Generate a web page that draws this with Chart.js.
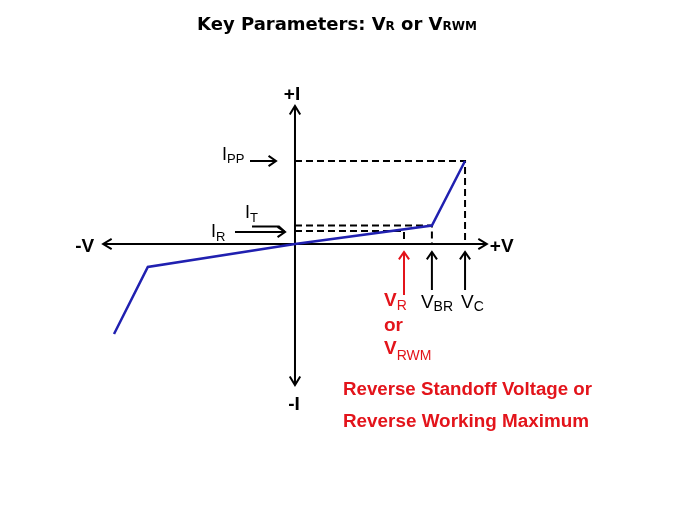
<!DOCTYPE html>
<html><head><meta charset="utf-8">
<script src="https://cdn.jsdelivr.net/npm/chart.js@4/dist/chart.umd.min.js"></script>
<style>html,body{margin:0;padding:0;background:#fff;}canvas{display:block;}</style>
</head><body>
<canvas id="c" width="675" height="506"></canvas>
<script>
// ---- Data (arbitrary units: V horizontal, I vertical) ----
const curveV = [-8.3, -6.75, 0, 6.28, 7.8];
const curveI = [-9.0, -2.3, 0, 1.85, 8.3];
const markerNames = ['VR', 'VBR', 'VC'];
const markerV = [5.0, 6.28, 7.8];
const levelNames = ['IR', 'IT', 'IPP'];
const levelI = [1.3, 1.85, 8.3];
const axisV = [-8.8, 8.8];
const axisI = [-14.1, 13.8];
const viewV = [-13.53, 17.43];
const viewI = [-26.2, 24.4];

const BLUE = '#2020b0';
const RED = '#e3141b';

const curveData = curveV.map((v, k) => ({x: v, y: curveI[k]}));
const dashSets = levelI.map((lev, k) => ({
  label: levelNames[k],
  data: [{x: 0, y: lev}, {x: markerV[k], y: lev}, {x: markerV[k], y: 0}],
  showLine: true, borderColor: '#000', borderWidth: 2, borderDash: [7, 4],
  pointRadius: 0, fill: false, tension: 0
}));

function arrowHead(ctx, tx, ty, ang, len, half) {
  ctx.beginPath();
  ctx.moveTo(tx - len * Math.cos(ang - half), ty - len * Math.sin(ang - half));
  ctx.lineTo(tx, ty);
  ctx.lineTo(tx - len * Math.cos(ang + half), ty - len * Math.sin(ang + half));
  ctx.stroke();
}
function arrow(ctx, x1, y1, x2, y2, color, w) {
  ctx.strokeStyle = color; ctx.lineWidth = w || 2;
  ctx.beginPath(); ctx.moveTo(x1, y1); ctx.lineTo(x2, y2); ctx.stroke();
  arrowHead(ctx, x2, y2, Math.atan2(y2 - y1, x2 - x1), 9, 0.6);
}
function runs(ctx, parts, x, y) {
  let cx = x;
  for (const p of parts) {
    ctx.font = p.font; ctx.fillStyle = p.color;
    ctx.fillText(p.text, cx, y + (p.dy || 0));
    cx += ctx.measureText(p.text).width;
  }
  return cx - x;
}
function fitText(ctx, text, font, color, x, y, w) {
  ctx.font = font; ctx.fillStyle = color;
  const m = ctx.measureText(text).width;
  ctx.save(); ctx.translate(x, y); ctx.scale(w / m, 1); ctx.fillText(text, 0, 0); ctx.restore();
}

const decor = {
  id: 'decor',
  beforeDatasetsDraw(chart) {
    const ctx = chart.ctx, xs = chart.scales.x, ys = chart.scales.y;
    const x0 = xs.getPixelForValue(0), y0 = ys.getPixelForValue(0);
    ctx.save();
    ctx.strokeStyle = '#000'; ctx.lineWidth = 2; ctx.lineCap = 'butt';
    const xl = xs.getPixelForValue(axisV[0]), xr = xs.getPixelForValue(axisV[1]);
    const yt = ys.getPixelForValue(axisI[1]), yb = ys.getPixelForValue(axisI[0]);
    ctx.beginPath(); ctx.moveTo(xl, y0); ctx.lineTo(xr, y0); ctx.stroke();
    ctx.beginPath(); ctx.moveTo(x0, yt); ctx.lineTo(x0, yb); ctx.stroke();
    arrowHead(ctx, xl, y0, Math.PI, 10, 0.55);
    arrowHead(ctx, xr, y0, 0, 10, 0.55);
    arrowHead(ctx, x0, yt, -Math.PI / 2, 10, 0.55);
    arrowHead(ctx, x0, yb, Math.PI / 2, 10, 0.55);
    ctx.restore();
  },
  afterDraw(chart) {
    const ctx = chart.ctx, xs = chart.scales.x, ys = chart.scales.y;
    const x0 = xs.getPixelForValue(0), y0 = ys.getPixelForValue(0);
    ctx.save();
    ctx.textBaseline = 'alphabetic';
    const big = '18px "Liberation Sans", Arial, sans-serif';
    const sub = '13px "Liberation Sans", Arial, sans-serif';
    const bold = 'bold 19px "Liberation Sans", Arial, sans-serif';

    // Title
    const tb = 'bold 18px "DejaVu Sans", Verdana, sans-serif';
    const ts = 'bold 12px "DejaVu Sans", Verdana, sans-serif';
    const tparts = [
      {text: 'Key Parameters: V', font: tb, color: '#000'},
      {text: 'R', font: ts, color: '#000'},
      {text: ' or V', font: tb, color: '#000'},
      {text: 'RWM', font: ts, color: '#000'}
    ];
    let tw = 0;
    for (const p of tparts) { ctx.font = p.font; tw += ctx.measureText(p.text).width; }
    runs(ctx, tparts, 337 - tw / 2, 30);

    // Axis labels
    ctx.font = bold; ctx.fillStyle = '#000';
    ctx.textAlign = 'right'; ctx.fillText('-V', xs.getPixelForValue(axisV[0]) - 9, y0 + 8);
    ctx.textAlign = 'left'; ctx.fillText('+V', xs.getPixelForValue(axisV[1]) + 3, y0 + 8);
    ctx.textAlign = 'center';
    ctx.fillText('+I', x0 - 3, ys.getPixelForValue(axisI[1]) - 6);
    ctx.fillText('-I', x0 - 1, ys.getPixelForValue(axisI[0]) + 25);
    ctx.textAlign = 'left';

    // Current level labels & arrows
    const yIR = ys.getPixelForValue(levelI[0]);
    const yIT = ys.getPixelForValue(levelI[1]);
    const yIPP = ys.getPixelForValue(levelI[2]);
    arrow(ctx, x0 - 45, yIPP, x0 - 19, yIPP, '#000', 2);
    runs(ctx, [{text: 'I', font: big, color: '#000'}, {text: 'PP', font: sub, color: '#000', dy: 3}], x0 - 73, yIPP - 1);
    ctx.strokeStyle = '#000'; ctx.lineWidth = 2;
    ctx.beginPath(); ctx.moveTo(x0 - 43, yIT + 1); ctx.lineTo(x0 - 16, yIT + 1); ctx.lineTo(x0 - 10, yIR + 1); ctx.stroke();
    arrow(ctx, x0 - 60, yIR + 1, x0 - 10, yIR + 1, '#000', 2);
    runs(ctx, [{text: 'I', font: big, color: '#000'}, {text: 'T', font: sub, color: '#000', dy: 4}], x0 - 50, yIT - 7.5);
    runs(ctx, [{text: 'I', font: big, color: '#000'}, {text: 'R', font: sub, color: '#000', dy: 4}], x0 - 84, yIR + 6);

    // Voltage markers
    const colors = [RED, '#000', '#000'];
    markerV.forEach((v, k) => {
      const px = xs.getPixelForValue(v);
      arrow(ctx, px, y0 + (k === 0 ? 51 : 46), px, y0 + 8, colors[k], 2);
    });
    const pR = xs.getPixelForValue(markerV[0]);
    const pBR = xs.getPixelForValue(markerV[1]);
    const pC = xs.getPixelForValue(markerV[2]);
    const rb = 'bold 19px "Liberation Sans", Arial, sans-serif';
    const s14 = '14px "Liberation Sans", Arial, sans-serif';
    const r19 = '19px "Liberation Sans", Arial, sans-serif';
    runs(ctx, [{text: 'V', font: rb, color: RED}, {text: 'R', font: s14, color: RED, dy: 4}], pR - 20, y0 + 62);
    runs(ctx, [{text: 'or', font: rb, color: RED}], pR - 20, y0 + 87);
    runs(ctx, [{text: 'V', font: rb, color: RED}, {text: 'RWM', font: s14, color: RED, dy: 6}], pR - 20, y0 + 110);
    runs(ctx, [{text: 'V', font: r19, color: '#000'}, {text: 'BR', font: s14, color: '#000', dy: 3}], pBR - 11, y0 + 64);
    runs(ctx, [{text: 'V', font: r19, color: '#000'}, {text: 'C', font: s14, color: '#000', dy: 3}], pC - 4, y0 + 64);

    // Description
    const df = 'bold 18px "Liberation Sans", Arial, sans-serif';
    fitText(ctx, 'Reverse Standoff Voltage or', df, RED, 343, 395, 249);
    fitText(ctx, 'Reverse Working Maximum', df, RED, 343, 427, 246);
    ctx.restore();
  }
};

new Chart(document.getElementById('c'), {
  type: 'scatter',
  data: {
    datasets: [
      {label: 'IV curve', data: curveData, showLine: true, borderColor: BLUE, borderWidth: 2.5,
       pointRadius: 0, fill: false, tension: 0},
      ...dashSets
    ]
  },
  options: {
    responsive: false, animation: false,
    layout: {padding: 0},
    scales: {
      x: {type: 'linear', min: viewV[0], max: viewV[1], display: false},
      y: {type: 'linear', min: viewI[0], max: viewI[1], display: false}
    },
    plugins: {legend: {display: false}, tooltip: {enabled: false}, title: {display: false}}
  },
  plugins: [decor]
});
</script>
</body></html>
